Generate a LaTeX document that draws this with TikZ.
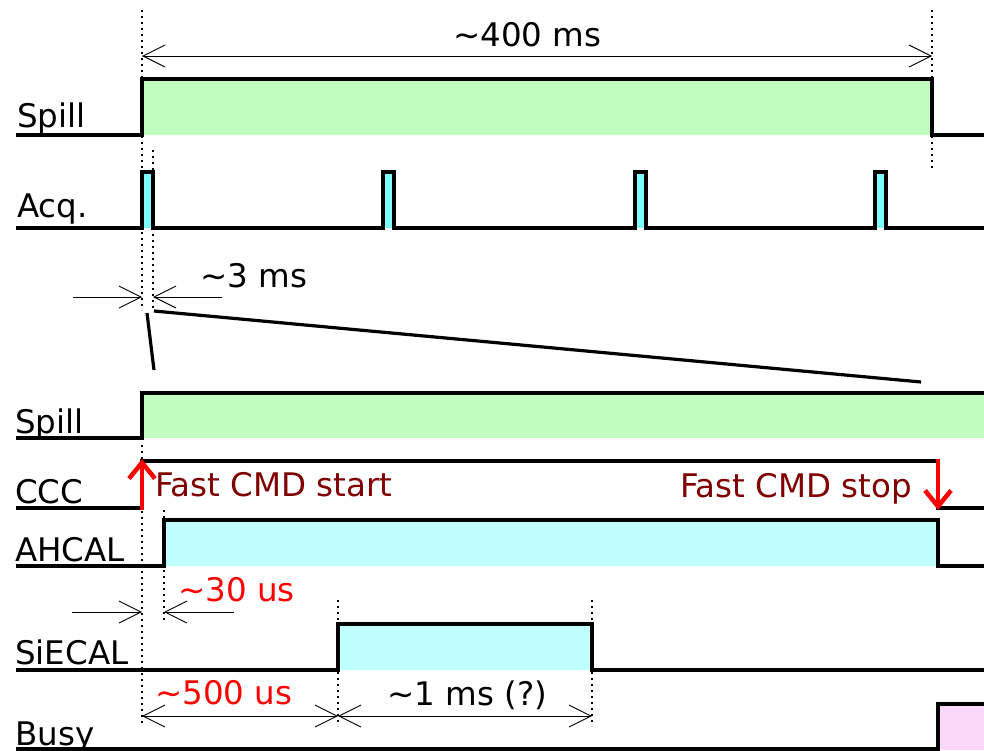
\documentclass[tikz,border=0pt]{standalone}
\usepackage{fontspec}
\setmainfont{DejaVu Sans}
\usetikzlibrary{arrows.meta}
\definecolor{spillgreen}{HTML}{C0FFC0}
\definecolor{acqcyan}{HTML}{80FFFF}
\definecolor{lightcyan}{HTML}{C0FFFF}
\definecolor{busypink}{HTML}{FCD8F8}
\definecolor{darkred}{HTML}{800000}
\tikzset{
  sig/.style={line width=3.2pt, line join=miter},
  dotline/.style={line width=1.8pt, dash pattern=on 1.8pt off 4.2pt},
  dimarrow/.style={line width=0.9pt, {Straight Barb[length=22pt,width=22pt]}-{Straight Barb[length=22pt,width=22pt]}},
  onearrow/.style={line width=0.9pt, -{Straight Barb[length=22pt,width=22pt]}},
  redarrow/.style={line width=4.5pt, red, -{Straight Barb[length=16pt,width=26pt,line width=4.5pt]}},
  lbl/.style={font=\fontsize{32.5}{38}\selectfont, anchor=base west, inner sep=0pt},
  zoomline/.style={line width=3.2pt},
}
\begin{document}
\begin{tikzpicture}[x=1pt,y=-1pt]
\useasboundingbox (0,0) rectangle (984,750);

% named time coordinates
\coordinate (t0top) at (142,10);
\coordinate (t0b) at (142,310);
\coordinate (t1top) at (153,150);
\coordinate (t1b) at (153,310);
\coordinate (tend) at (932,10);
\coordinate (tendb) at (932,170);

% ---------- upper part ----------
\fill[spillgreen] (142,79) rectangle (932,135);
\draw[sig] (16,135) -- (142,135) -- (142,79) -- (932,79) -- (932,135) -- (984,135);
\node[lbl] (spill1) at (17,127) {Spill};

\foreach \x in {142,383,635,875}{
  \fill[acqcyan] (\x,172) rectangle (\x+11,228);
}
\draw[sig] (16,228) -- (142,228) -- (142,172) -- (153,172) -- (153,228)
  -- (383,228) -- (383,172) -- (394,172) -- (394,228)
  -- (635,228) -- (635,172) -- (646,172) -- (646,228)
  -- (875,228) -- (875,172) -- (886,172) -- (886,228) -- (984,228);
\node[lbl] (acq) at (17,217) {Acq.};

\draw[dotline] (t0top) -- (t0b);
\draw[dotline] (t1top) -- (t1b);
\draw[dotline] (tend) -- (tendb);

\coordinate (a400l) at (142,56);
\coordinate (a400r) at (932,56);
\draw[dimarrow] (a400l) -- (a400r);
\node[lbl] (l400) at (453,46) {\textasciitilde400 ms};

\coordinate (a3l0) at (73,297);
\coordinate (a3l1) at (142,297);
\coordinate (a3r0) at (222,297);
\coordinate (a3r1) at (153,297);
\draw[onearrow] (a3l0) -- (a3l1);
\draw[onearrow] (a3r0) -- (a3r1);
\node[lbl] (l3) at (200,287) {\textasciitilde3 ms};

% zoom lines
\coordinate (z1a) at (147,313);
\coordinate (z1b) at (154,370);
\coordinate (z2a) at (154,311);
\coordinate (z2b) at (921,382);
\draw[zoomline] (z1a) -- (z1b);
\draw[zoomline] (z2a) -- (z2b);

% ---------- lower part ----------
\fill[spillgreen] (142,393) rectangle (984,438);
\draw[sig] (16,438) -- (142,438) -- (142,393) -- (984,393);
\node[lbl] (spill2) at (15,433) {Spill};

\draw[sig] (16,508) -- (142,508) -- (142,461) -- (938,461) -- (938,508) -- (984,508);
\node[lbl] (ccc) at (15,503) {CCC};

\fill[lightcyan] (164,520) rectangle (938,566);
\draw[sig] (16,566) -- (164,566) -- (164,520) -- (938,520) -- (938,566) -- (984,566);
\node[lbl] (ahcal) at (15,561) {AHCAL};

\fill[lightcyan] (338,624) rectangle (592,670);
\draw[sig] (16,670) -- (338,670) -- (338,624) -- (592,624) -- (592,670) -- (984,670);
\node[lbl] (siecal) at (15,664) {SiECAL};

\fill[busypink] (938,704) rectangle (984,750);
\draw[sig] (16,749) -- (938,749) -- (938,704) -- (984,704);
\node[lbl] (busy) at (15,745) {Busy};

% dotted lines lower
\coordinate (d0a) at (142,445);
\coordinate (d0b) at (142,726);
\coordinate (d1a) at (164,510);
\coordinate (d1b) at (164,620);
\coordinate (d2a) at (338,600);
\coordinate (d2b) at (338,726);
\coordinate (d3a) at (592,600);
\coordinate (d3b) at (592,726);
\draw[dotline] (d0a) -- (d0b);
\draw[dotline] (d1a) -- (d1b);
\draw[dotline] (d2a) -- (d2b);
\draw[dotline] (d3a) -- (d3b);

% red arrows
\coordinate (ru0) at (142,510);
\coordinate (ru1) at (142,459);
\coordinate (rd0) at (938,459);
\coordinate (rd1) at (938,510);
\draw[redarrow] (ru0) -- (ru1);
\draw[redarrow] (rd0) -- (rd1);
\node[lbl, text=darkred] (fstart) at (155,496) {Fast CMD start};
\node[lbl, text=darkred] (fstop) at (680,497) {Fast CMD stop};

% ~30 us
\coordinate (a30l0) at (72,612);
\coordinate (a30l1) at (142,612);
\coordinate (a30r0) at (234,612);
\coordinate (a30r1) at (164,612);
\draw[onearrow] (a30l0) -- (a30l1);
\draw[onearrow] (a30r0) -- (a30r1);
\node[lbl, text=red] (l30) at (178,601) {\textasciitilde30 us};

% ~500 us and ~1 ms
\coordinate (a500l) at (142,716);
\coordinate (a500r) at (338,716);
\coordinate (a1r) at (592,716);
\draw[dimarrow] (a500l) -- (a500r);
\draw[dimarrow] (a500r) -- (a1r);
\node[lbl, text=red] (l500) at (155,704) {\textasciitilde500 us};
\node[lbl] (l1ms) at (387,705) {\textasciitilde1 ms (?)};
\end{tikzpicture}
\end{document}
